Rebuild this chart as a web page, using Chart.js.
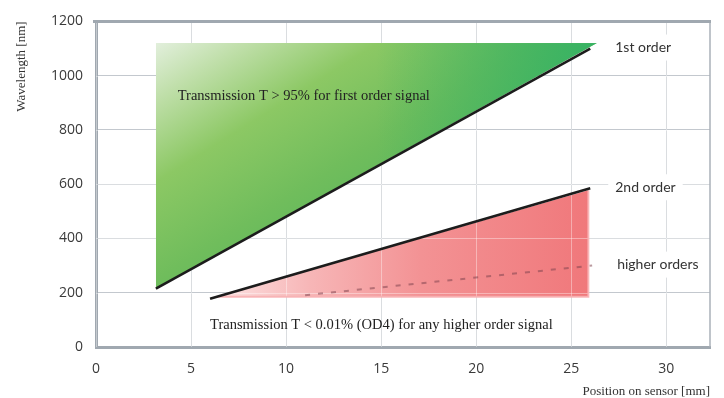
<!DOCTYPE html>
<html>
<head>
<meta charset="utf-8">
<script src="https://cdn.jsdelivr.net/npm/chart.js@4/dist/chart.umd.min.js"></script>
<style>
  html, body { margin: 0; padding: 0; background: #ffffff; }
  #wrap { width: 724px; height: 398px; position: relative; }
</style>
</head>
<body>
<div id="wrap"><canvas id="c" width="724" height="398"></canvas></div>
<script>
// Grating order lines: position on sensor [mm] vs wavelength [nm]
const firstOrderX = [3.15, 26.0];
const firstOrderY = [215, 1100];
const secondOrderX = [6.0, 26.0];
const secondOrderY = [178, 585];
const higherOrderX = [11.0, 26.1];
const higherOrderY = [191, 300];

// Filter bands: pass band above the 1st order line, blocking band below the 2nd order line
const passBandX = [3.15, 26.35];
const passBandY = [215, 1120];
const passBandTop = 1120;
const blockBandX = [6.35, 25.9];
const blockBandY = [185, 578];
const blockBandFloor = 185;

const orderLabels = ['1st order', '2nd order', 'higher orders'];
const bandNotes = [
  'Transmission T > 95% for first order signal',
  'Transmission T < 0.01% (OD4) for any higher order signal'
];

const xTicks = [0, 5, 10, 15, 20, 25, 30];
const yTicks = [0, 200, 400, 600, 800, 1000, 1200];
const xMax = 32.3;
const yMax = 1200;
const xTitle = 'Position on sensor [mm]';
const yTitle = 'Wavelength [nm]';

const pts = (xs, ys) => xs.map((x, i) => ({ x, y: ys[i] }));

const GRID = '#c3c8ce';
const FRAME = '#a0a8b0';
const SANS = 'Lato, "Open Sans", sans-serif';
const SERIF = '"Liberation Serif", "DejaVu Serif", serif';

function passGradient(context) {
  const chart = context.chart;
  if (!chart.chartArea) return '#8cc864';
  const x0 = chart.scales.x.getPixelForValue(passBandX[0]);
  const y0 = chart.scales.y.getPixelForValue(passBandTop);
  const g = chart.ctx.createLinearGradient(x0, y0, x0 + 125, y0 + 200);
  g.addColorStop(0, '#e2efdc');
  g.addColorStop(0.2, '#c0dfaa');
  g.addColorStop(0.5, '#8cc864');
  g.addColorStop(0.85, '#70bd5c');
  g.addColorStop(1, '#66ba5c');
  return g;
}

function blockGradient(context) {
  const chart = context.chart;
  if (!chart.chartArea) return '#f39597';
  const x0 = chart.scales.x.getPixelForValue(blockBandX[0]);
  const x1 = chart.scales.x.getPixelForValue(blockBandX[1]);
  const g = chart.ctx.createLinearGradient(x0, 0, x1, 0);
  g.addColorStop(0, '#fce2e2');
  g.addColorStop(0.25, '#f7b6b7');
  g.addColorStop(0.55, '#f39294');
  g.addColorStop(1, '#f0787b');
  return g;
}

const BLOCK_FILL = 0;
const PASS_FILL = 3;

// Soft grid over the blocking band, teal tint on the pass band, frame lines, labels and notes
const decor = {
  id: 'decor',
  afterDatasetDraw(chart, args) {
    const { ctx, chartArea: a, scales: { x, y } } = chart;
    if (args.index === BLOCK_FILL) {
      ctx.save();
      ctx.beginPath();
      ctx.rect(a.left, a.top, a.right - a.left, a.bottom - a.top);
      ctx.clip();
      ctx.strokeStyle = 'rgba(255,255,255,0.38)';
      ctx.lineWidth = 1;
      xTicks.forEach(v => {
        const p = Math.round(x.getPixelForValue(v)) + 0.5;
        ctx.beginPath(); ctx.moveTo(p, a.top); ctx.lineTo(p, a.bottom); ctx.stroke();
      });
      yTicks.forEach(v => {
        const p = Math.round(y.getPixelForValue(v)) + 0.5;
        ctx.beginPath(); ctx.moveTo(a.left, p); ctx.lineTo(a.right, p); ctx.stroke();
      });
      ctx.restore();
    } else if (args.index === PASS_FILL) {
      const xl = x.getPixelForValue(passBandX[0]);
      const xr = x.getPixelForValue(passBandX[1]);
      const yb = y.getPixelForValue(passBandY[0]);
      const yt = y.getPixelForValue(passBandTop);
      ctx.save();
      ctx.beginPath();
      ctx.moveTo(xl, yb); ctx.lineTo(xr, yt); ctx.lineTo(xl, yt); ctx.closePath();
      ctx.clip();
      const g = ctx.createLinearGradient(xl + (xr - xl) * 0.5, 0, xr, 0);
      g.addColorStop(0, 'rgba(52,178,100,0)');
      g.addColorStop(1, 'rgba(52,178,100,0.95)');
      ctx.fillStyle = g;
      ctx.fillRect(xl, yt, xr - xl, yb - yt);
      ctx.restore();
    }
  },
  afterDraw(chart) {
    const { ctx, chartArea: a, scales: { x, y } } = chart;
    ctx.save();
    // right edge
    ctx.strokeStyle = '#aab1b8';
    ctx.lineWidth = 1.5;
    ctx.beginPath(); ctx.moveTo(a.right, a.top); ctx.lineTo(a.right, a.bottom); ctx.stroke();
    // top edge
    ctx.strokeStyle = FRAME;
    ctx.lineWidth = 3;
    ctx.beginPath(); ctx.moveTo(a.left - 3, a.top); ctx.lineTo(a.right + 1, a.top); ctx.stroke();

    // order labels next to the line ends
    const ends = [
      [firstOrderX[1], firstOrderY[1]],
      [secondOrderX[1], secondOrderY[1]],
      [higherOrderX[1], higherOrderY[1]]
    ];
    ctx.font = '14px ' + SANS;
    ctx.textBaseline = 'middle';
    ctx.textAlign = 'left';
    orderLabels.forEach((t, i) => {
      const px = x.getPixelForValue(ends[i][0]) + 25;
      const py = y.getPixelForValue(ends[i][1]) - 1;
      const w = ctx.measureText(t).width;
      ctx.fillStyle = '#ffffff';
      ctx.fillRect(px - 7, py - 13, w + 14, 26);
      ctx.fillStyle = '#333333';
      ctx.fillText(t, px, py);
    });

    // band notes
    ctx.font = '14.5px ' + SERIF;
    ctx.fillStyle = '#222222';
    ctx.fillText(bandNotes[0], x.getPixelForValue(4.3), y.getPixelForValue(925));
    ctx.fillText(bandNotes[1], x.getPixelForValue(6.0), y.getPixelForValue(80));
    ctx.restore();
  }
};

new Chart(document.getElementById('c'), {
  type: 'line',
  data: {
    datasets: [
      {
        // blocking band (index BLOCK_FILL)
        data: pts(blockBandX, blockBandY),
        fill: { value: blockBandFloor },
        backgroundColor: blockGradient,
        borderWidth: 0,
        borderColor: 'rgba(0,0,0,0)',
        pointRadius: 0,
        order: 10
      },
      {
        // pale rim along the band's lower and right edges
        data: [
          { x: blockBandX[0], y: blockBandFloor },
          { x: blockBandX[1], y: blockBandFloor },
          { x: blockBandX[1], y: blockBandY[1] }
        ],
        fill: false,
        borderColor: 'rgba(248,176,178,0.9)',
        borderWidth: 2,
        pointRadius: 0,
        order: 9
      },
      {
        data: pts(higherOrderX, higherOrderY),
        fill: false,
        borderColor: 'rgba(130,70,80,0.55)',
        borderWidth: 2,
        borderDash: [5, 8],
        pointRadius: 0,
        order: 8
      },
      {
        // pass band (index PASS_FILL)
        data: pts(passBandX, passBandY),
        fill: { value: passBandTop },
        backgroundColor: passGradient,
        borderWidth: 0,
        borderColor: 'rgba(0,0,0,0)',
        pointRadius: 0,
        order: 7
      },
      {
        data: pts(secondOrderX, secondOrderY),
        fill: false,
        borderColor: '#1c1c1c',
        borderWidth: 2.6,
        pointRadius: 0,
        order: 2
      },
      {
        data: pts(firstOrderX, firstOrderY),
        fill: false,
        borderColor: '#1c1c1c',
        borderWidth: 2.6,
        pointRadius: 0,
        order: 1
      }
    ]
  },
  options: {
    responsive: false,
    animation: false,
    events: [],
    layout: { padding: { left: 0, right: 14, top: 14.5, bottom: 0 } },
    plugins: { legend: { display: false }, tooltip: { enabled: false } },
    scales: {
      x: {
        type: 'linear',
        min: 0,
        max: xMax,
        afterBuildTicks: s => { s.ticks = xTicks.map(v => ({ value: v })); },
        afterFit: s => { s.height = 51; },
        grid: { color: GRID, lineWidth: 1, drawTicks: false },
        border: { color: FRAME, width: 3 },
        ticks: {
          color: '#3a3a3a', font: { family: '"Open Sans", sans-serif', size: 14 },
          padding: 14, maxRotation: 0, callback: v => String(v)
        },
        title: {
          display: true, text: xTitle, align: 'end', color: '#333333',
          font: { family: SERIF, size: 13, lineHeight: 1 }, padding: { top: 0, bottom: 0 }
        }
      },
      y: {
        type: 'linear',
        min: 0,
        max: yMax,
        afterBuildTicks: s => { s.ticks = yTicks.map(v => ({ value: v })); },
        afterFit: s => { s.width = 96; },
        grid: { color: GRID, lineWidth: 1, drawTicks: false },
        border: { color: FRAME, width: 3 },
        ticks: {
          color: '#3a3a3a', font: { family: '"Open Sans", sans-serif', size: 14 },
          padding: 13, callback: v => String(v)
        },
        title: {
          display: true, text: yTitle, align: 'end', color: '#333333',
          font: { family: SERIF, size: 13 }, padding: { top: 14, bottom: 0 }
        }
      }
    }
  },
  plugins: [decor]
});
</script>
</body>
</html>
